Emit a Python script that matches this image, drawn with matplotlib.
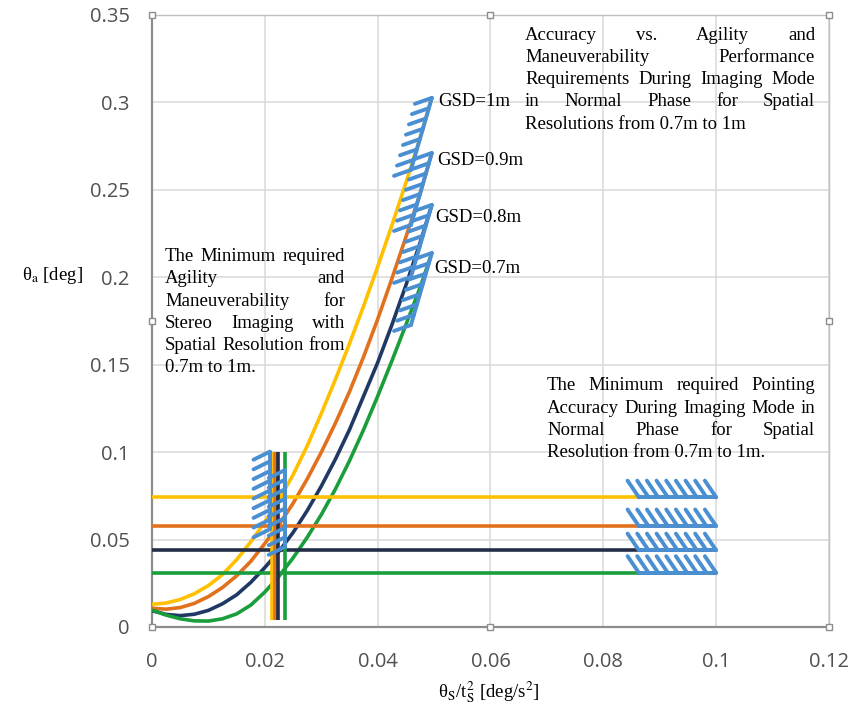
import numpy as np
import matplotlib
matplotlib.use("Agg")
import matplotlib.pyplot as plt
from matplotlib.transforms import IdentityTransform

W, H = 848, 708

# shared x samples of the four requirement curves (deg/s^2)
curve_x = [0, 0.0025, 0.005, 0.0075, 0.01, 0.0125, 0.015, 0.0175, 0.02, 0.0225, 0.025,
           0.0275, 0.03, 0.0325, 0.035, 0.0375, 0.04, 0.0425, 0.045, 0.0475, 0.0496]
# theta_a, one list per GSD
gsd_10 = [0.013, 0.0137, 0.0157, 0.0190, 0.0237, 0.0300, 0.0385, 0.0487, 0.0600, 0.0728, 0.0870,
          0.1035, 0.1220, 0.1415, 0.1620, 0.1835, 0.2060, 0.2295, 0.2540, 0.2795, 0.3026]
gsd_09 = [0.0107, 0.0102, 0.0111, 0.0135, 0.0174, 0.0226, 0.0293, 0.0375, 0.0478, 0.0585, 0.0707,
          0.0846, 0.0999, 0.1165, 0.1345, 0.1545, 0.1760, 0.1990, 0.2230, 0.2475, 0.2711]
gsd_08 = [0.0093, 0.0072, 0.0065, 0.0073, 0.0095, 0.0133, 0.0184, 0.0255, 0.0340, 0.0432, 0.0540,
          0.0665, 0.0805, 0.0959, 0.1128, 0.1320, 0.1512, 0.1726, 0.1954, 0.2196, 0.2414]
gsd_07 = [0.0097, 0.0068, 0.0047, 0.0035, 0.0034, 0.0047, 0.0075, 0.0125, 0.0200, 0.0290, 0.0395,
          0.0512, 0.0642, 0.0788, 0.0950, 0.1128, 0.1320, 0.1520, 0.1728, 0.1940, 0.2139]
curves = [gsd_10, gsd_09, gsd_08, gsd_07]

gsd_labels = ["GSD=1m", "GSD=0.9m", "GSD=0.8m", "GSD=0.7m"]
colors = ["#FFC000", "#E2711D", "#1F3864", "#1A9E3C"]
flat_colors = ["#FFC000", "#E2711D", "#222E47", "#1A9E3C"]

# minimum pointing accuracy per GSD (horizontal lines up to 0.1)
accuracy = [0.0742, 0.0577, 0.0439, 0.0310]
accuracy_xmax = 0.1
# minimum agility per GSD (vertical lines)
agility = [0.02127, 0.02175, 0.0224, 0.02352]
agility_ymin, agility_ymax = 0.004, 0.1

# hatched boundaries
curve_hatch_top_x, curve_hatch_bot_x = 0.0496, 0.0459
curve_hatch_top = [0.3026, 0.2711, 0.2414, 0.2139]
curve_hatch_bot = [0.2614, 0.2299, 0.2002, 0.1727]
gsd_label_x = [0.05076, 0.05048, 0.05018, 0.05005]
gsd_label_y = [0.2980, 0.2643, 0.2318, 0.2023]

vhatch_x = [0.0209, 0.0236]
vhatch_top = [0.1003, 0.0898]
vhatch_bot = [0.0559, 0.0459]

hhatch_x0, hhatch_x1 = 0.0863, 0.1

xticks = [0, 0.02, 0.04, 0.06, 0.08, 0.1, 0.12]
xtick_labels = ["0", "0.02", "0.04", "0.06", "0.08", "0.1", "0.12"]
yticks = [0, 0.05, 0.1, 0.15, 0.2, 0.25, 0.3, 0.35]
ytick_labels = ["0", "0.05", "0.1", "0.15", "0.2", "0.25", "0.3", "0.35"]

hatch_blue = "#4B8FD3"
serif = "Liberation Serif"
plt.rcParams["mathtext.fontset"] = "stix"

fig = plt.figure(figsize=(W / 100, H / 100), dpi=100)
ax = fig.add_axes([152 / W, 1 - 627 / H, (829 - 152) / W, (627 - 15) / H])
ax.set_xlim(0, 0.12)
ax.set_ylim(0, 0.35)
ax.set_xticks(xticks)
ax.set_xticklabels(xtick_labels, fontfamily="Open Sans")
ax.set_yticks(yticks)
ax.set_yticklabels(ytick_labels, fontfamily="Open Sans")
ax.tick_params(length=0, labelsize=14.5, labelcolor="#505050")
ax.tick_params(axis="x", pad=18)
ax.tick_params(axis="y", pad=16)
ax.grid(True, color="#D9D9D9", lw=1.1)
ax.set_axisbelow(True)
for s in ["top", "right"]:
    ax.spines[s].set_color("#BFBFBF")
    ax.spines[s].set_linewidth(1.0)
for s in ["left", "bottom"]:
    ax.spines[s].set_color("#8C8C8C")
    ax.spines[s].set_linewidth(1.6)

# selection handles of the plot area
hx = [0, 0.5, 1, 0, 1, 0, 0.5, 1]
hy = [0, 0, 0, 0.5, 0.5, 1, 1, 1]
ax.plot(hx, hy, ls="none", marker="s", ms=5, mfc="white", mec="#8C8C8C", mew=1,
        transform=ax.transAxes, clip_on=False, zorder=10)

lw = 2.6
for ys, c in zip(curves, colors):
    ax.plot(curve_x, ys, color=c, lw=lw, zorder=3, solid_capstyle="butt")
for v, c in zip(accuracy, flat_colors):
    ax.plot([0, accuracy_xmax], [v, v], color=c, lw=lw, zorder=4, solid_capstyle="butt")
for v, c in zip(agility, flat_colors):
    ax.plot([v, v], [agility_ymin, agility_ymax], color=c, lw=lw, zorder=5, solid_capstyle="butt")


def hatch(x0, y0, x1, y1, n, dx, dy):
    ax.plot([x0, x1], [y0, y1], color=hatch_blue, lw=2.8, zorder=6, solid_capstyle="round")
    for t in np.linspace(0, 1, n):
        px = x0 + (x1 - x0) * t
        py = y0 + (y1 - y0) * t
        ax.plot([px, px + dx], [py, py + dy], color=hatch_blue, lw=2.8, zorder=6,
                solid_capstyle="round")


for top, bot in zip(curve_hatch_top, curve_hatch_bot):
    hatch(curve_hatch_top_x, top, curve_hatch_bot_x, bot, 8, -0.0030, -0.0034)
for x, top, bot in zip(vhatch_x, vhatch_top, vhatch_bot):
    hatch(x, top, x, bot, 9, -0.0029, -0.0046)
for v in accuracy:
    hatch(hhatch_x0, v, hhatch_x1, v, 9, -0.0020, 0.0095)

for lab, x, y in zip(gsd_labels, gsd_label_x, gsd_label_y):
    ax.text(x, y, lab, fontfamily=serif, fontsize=13.5, va="baseline", ha="left",
            color="black", zorder=7)

fig.canvas.draw()
renderer = fig.canvas.get_renderer()
ident = IdentityTransform()


def block(lines, x0, x1, y0, dy, fs=13.5):
    # justified paragraph, last line left aligned (pixel coords from top)
    for k, line in enumerate(lines):
        yb = H - (y0 + k * dy)
        words = line.split()
        if k == len(lines) - 1 or len(words) == 1:
            fig.text(x0, yb, line, transform=ident, fontfamily=serif, fontsize=fs,
                     va="baseline", ha="left")
            continue
        texts = [fig.text(0, yb, w, transform=ident, fontfamily=serif, fontsize=fs,
                          va="baseline", ha="left") for w in words]
        widths = [t.get_window_extent(renderer).width for t in texts]
        gap = (x1 - x0 - sum(widths)) / (len(words) - 1)
        x = x0
        for t, w in zip(texts, widths):
            t.set_x(x)
            x += w + gap


block(["Accuracy vs. Agility and",
       "Maneuverability Performance",
       "Requirements During Imaging Mode",
       "in Normal Phase for Spatial",
       "Resolutions from 0.7m to 1m"], 525, 815, 39.5, 22.3)
block(["The Minimum required",
       "Agility and",
       "Maneuverability for",
       "Stereo Imaging with",
       "Spatial Resolution from",
       "0.7m to 1m."], 165, 345, 261, 22.3)
block(["The Minimum required Pointing",
       "Accuracy During Imaging Mode in",
       "Normal Phase for Spatial",
       "Resolution from 0.7m to 1m."], 547, 815, 390.5, 22.3)

fig.text(52, H - 276, r"θ$_{\mathrm{a}}$ [deg]", transform=ident, fontfamily=serif,
         fontsize=13.5, ha="center", va="center")
fig.text(489, H - 692, r"θ$_{\mathrm{S}}$/t$_{\mathrm{S}}^{2}$ [deg/s$^{2}$]",
         transform=ident, fontfamily=serif, fontsize=13.5, ha="center", va="center")

fig.savefig("out.png", dpi=100)
